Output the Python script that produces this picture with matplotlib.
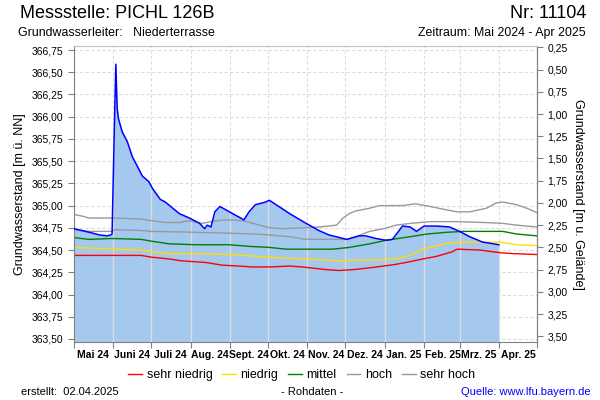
""" Grundwasserstand Messstelle PICHL 126B, Mai 2024 - Apr 2025. """

import numpy as np
import matplotlib.pyplot as plt
from matplotlib.ticker import FuncFormatter

plt.rcParams['font.family'] = ['Liberation Sans', 'DejaVu Sans']

START = np.datetime64('2024-05-01')
GROUND = 367.03  # Gelaendehoehe [m ue. NN]

# Grundwasserstand, Tage seit 01.05.2024 / m ue. NN
level_day = [0, 12, 20, 26, 29, 30, 32, 33, 34, 35, 38, 42, 46, 50, 54, 59,
             62, 68, 72, 83, 91, 99, 103, 105, 108, 111, 115, 120, 125, 134,
             138, 143, 151, 154, 170, 183, 193, 201, 215, 225, 230, 238, 246,
             251, 259, 265, 270, 276, 286, 296, 304, 312, 322, 335]
level = [364.74, 364.70, 364.67, 364.66, 364.67, 364.68, 366.00, 366.59,
         366.10, 365.98, 365.83, 365.72, 365.55, 365.44, 365.33, 365.27,
         365.19, 365.07, 365.04, 364.91, 364.86, 364.80, 364.74, 364.78,
         364.76, 364.93, 364.99, 364.95, 364.91, 364.84, 364.93, 365.01,
         365.04, 365.06, 364.91, 364.80, 364.72, 364.67, 364.62, 364.66,
         364.66, 364.63, 364.61, 364.62, 364.77, 364.76, 364.71, 364.77,
         364.77, 364.76, 364.71, 364.65, 364.59, 364.56]

# Vergleichswerte
red_day = [0, 53, 61, 75, 84, 104, 117, 130, 140, 154, 170, 180, 199, 209,
           220, 233, 244, 254, 265, 275, 286, 298, 302, 320, 336, 346, 365]
red = [364.44, 364.44, 364.42, 364.40, 364.38, 364.36, 364.33, 364.32,
       364.31, 364.31, 364.32, 364.31, 364.28, 364.27, 364.28, 364.30,
       364.32, 364.34, 364.37, 364.40, 364.43, 364.48, 364.51, 364.50,
       364.47, 364.46, 364.45]

yellow_day = [0, 16, 33, 53, 61, 75, 96, 122, 133, 154, 180, 209, 241, 257,
              265, 275, 286, 296, 307, 323, 336, 349, 365]
yellow = [364.53, 364.52, 364.51, 364.50, 364.48, 364.46, 364.46, 364.45,
          364.44, 364.42, 364.40, 364.38, 364.39, 364.41, 364.44, 364.51,
          364.55, 364.58, 364.59, 364.59, 364.59, 364.56, 364.55]

green_day = [0, 12, 30, 53, 61, 75, 96, 122, 140, 154, 167, 204, 217, 233,
             246, 265, 278, 294, 307, 338, 349, 365]
green = [364.64, 364.62, 364.63, 364.62, 364.60, 364.57, 364.56, 364.56,
         364.54, 364.53, 364.51, 364.51, 364.53, 364.57, 364.61, 364.65,
         364.68, 364.70, 364.71, 364.71, 364.68, 364.66]

hoch_day = [0, 12, 30, 32, 53, 61, 96, 122, 143, 154, 170, 183, 215, 222,
            233, 244, 254, 265, 281, 302, 323, 338, 349, 365]
hoch = [364.73, 364.71, 364.71, 364.73, 364.72, 364.71, 364.70, 364.69,
        364.68, 364.67, 364.65, 364.62, 364.62, 364.65, 364.71, 364.74,
        364.78, 364.80, 364.82, 364.82, 364.81, 364.80, 364.78, 364.76]

sehrhoch_day = [0, 7, 12, 30, 53, 61, 72, 83, 91, 101, 112, 122, 133, 144,
                154, 165, 180, 194, 207, 212, 217, 222, 233, 241, 259, 269,
                281, 291, 302, 312, 325, 333, 338, 349, 357, 365]
sehrhoch = [364.90, 364.88, 364.86, 364.86, 364.85, 364.83, 364.81, 364.81,
            364.83, 364.80, 364.83, 364.84, 364.83, 364.79, 364.75, 364.74,
            364.75, 364.76, 364.78, 364.86, 364.91, 364.94, 364.97, 365.00,
            365.00, 365.02, 364.99, 364.96, 364.93, 364.93, 364.97, 365.03,
            365.04, 365.01, 364.97, 364.92]

months = ['Mai 24', 'Juni 24', 'Juli 24', 'Aug. 24', 'Sept. 24', 'Okt. 24',
          'Nov. 24', 'Dez. 24', 'Jan. 25', 'Feb. 25', 'Mrz. 25', 'Apr. 25']


def to_dates(days):
    return START + np.asarray(days).astype('timedelta64[D]')


def comma(v, pos):
    return ('%.2f' % v).replace('.', ',')


fig = plt.figure(figsize=(6, 4), dpi=100)
ax = fig.add_axes([74 / 600, 58 / 400, 463 / 600, 296 / 400])

ymin, ymax = 363.466, 366.795
month_start = np.arange('2024-05', '2025-06', dtype='datetime64[M]').astype('datetime64[D]')
month_mid = month_start[:-1] + np.timedelta64(15, 'D')

# grid
ax.set_axisbelow(True)
ax.grid(axis='both', ls=(0, (3, 2)), color='#dddddd', lw=0.8)

# Grundwasserstand
t = to_dates(level_day)
ax.fill_between(t, ymin, level, color='#a5c8ef', lw=0, zorder=1)
ms_days = (month_start - START).astype(int)
inside = ms_days <= level_day[-1]
ax.vlines(month_start[inside][1:], ymin,
          np.interp(ms_days[inside][1:], level_day, level),
          color='#dcdcdc', lw=1, zorder=1.5)

l1, = ax.plot(to_dates(red_day), red, c='#ff0000', lw=1, zorder=2, label='sehr niedrig')
l2, = ax.plot(to_dates(yellow_day), yellow, c='#ffdd00', lw=1, zorder=2, label='niedrig')
l3, = ax.plot(to_dates(green_day), green, c='#008000', lw=1, zorder=2, label='mittel')
l4, = ax.plot(to_dates(hoch_day), hoch, c='#999999', lw=1, zorder=2, label='hoch')
l5, = ax.plot(to_dates(sehrhoch_day), sehrhoch, c='#999999', lw=1, zorder=2, label='sehr hoch')
ax.plot(t, level, c='#0000ff', lw=1.1, zorder=3)

ax.set_xlim(month_start[0], month_start[-1])
ax.set_ylim(ymin, ymax)
ax.set_xticks(month_start)
ax.set_xticklabels([])
ax.set_xticks(month_mid, minor=True)
ax.set_xticklabels(months, minor=True, fontsize=7.5, fontweight='bold')
ax.tick_params(axis='x', which='minor', length=0, pad=6)
ax.tick_params(axis='x', which='major', length=4, color='#808080')
ax.set_yticks(np.arange(363.5, 366.76, 0.25))
ax.yaxis.set_major_formatter(FuncFormatter(comma))
ax.tick_params(axis='y', labelsize=7.5, length=4, color='#808080')
ax.set_ylabel('Grundwasserstand [m ü. NN]', fontsize=9, labelpad=4)

for s in ['left', 'bottom', 'right']:
    ax.spines[s].set_color('#808080')
ax.spines['top'].set_color('#c0c0c0')

sec = ax.secondary_yaxis('right', functions=(lambda y: GROUND - y, lambda d: GROUND - d))
sec.set_yticks(np.arange(0.25, 3.51, 0.25))
sec.yaxis.set_major_formatter(FuncFormatter(comma))
sec.tick_params(labelsize=7.5, length=4, color='#808080')
sec.spines['right'].set_color('#808080')
sec.set_ylabel('Grundwasserstand [m u. Gelände]', fontsize=9, rotation=270, labelpad=12)

# header and footer
fig.text(20 / 600, 1 - 13 / 400, 'Messstelle: PICHL 126B', fontsize=13, va='center')
fig.text(586 / 600, 1 - 13 / 400, 'Nr: 11104', fontsize=13, va='center', ha='right')
fig.text(18 / 600, 1 - 33 / 400, 'Grundwasserleiter:   Niederterrasse', fontsize=8.9, va='center')
fig.text(586 / 600, 1 - 33 / 400, 'Zeitraum: Mai 2024 - Apr 2025', fontsize=8.9, va='center', ha='right')

fig.legend(handles=[l1, l2, l3, l4, l5], loc='center', bbox_to_anchor=(0.503, 1 - 375 / 400),
           ncol=5, frameon=False, fontsize=9, handlelength=1.1, handletextpad=0.35,
           columnspacing=0.8)

fig.text(21 / 600, 1 - 392 / 400, 'erstellt:  02.04.2025', fontsize=8, va='center')
fig.text(312 / 600, 1 - 392 / 400, '- Rohdaten -', fontsize=8, va='center', ha='center')
fig.text(591 / 600, 1 - 392 / 400, 'Quelle: www.lfu.bayern.de', fontsize=8, va='center',
         ha='right', color='#0000ff')

fig.savefig('out.png', dpi=100)
